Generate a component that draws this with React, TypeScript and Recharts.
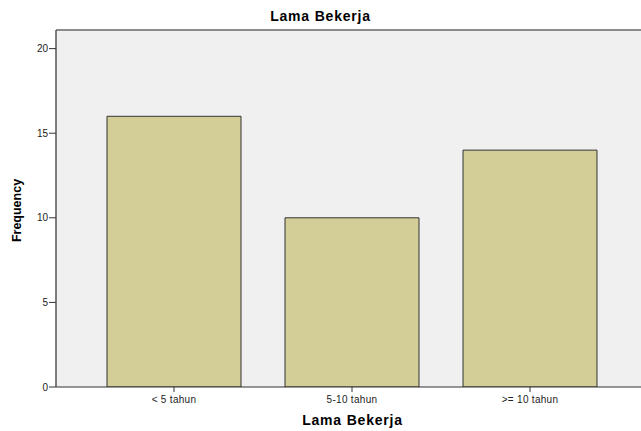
import React from 'react';
import { BarChart, Bar, XAxis, YAxis, CartesianGrid, ReferenceLine } from 'recharts';

const categories = ['< 5 tahun', '5-10 tahun', '>= 10 tahun'];
const frequencies = [16, 10, 14];
const yTicks = [0, 5, 10, 15, 20];

const data = categories.map((name, i) => ({ name, freq: frequencies[i] }));

const FONT = '"Liberation Sans", Arial, sans-serif';
const TOP = 21.1;

const YLabel = (props: any) => {
  const { viewBox } = props;
  const cy = viewBox.y + viewBox.height / 2 + 2;
  return (
    <text
      x={17}
      y={cy}
      transform={`rotate(-90, 17, ${cy})`}
      textAnchor="middle"
      dominantBaseline="central"
      fontFamily={FONT}
      fontWeight="bold"
      fontSize={12.5}
      fill="#000"
    >
      Frequency
    </text>
  );
};

const App: React.FC = () => {
  return (
    <div style={{ position: 'absolute', left: 0, top: 0, width: 641, height: 431, background: '#fff' }}>
      <div
        style={{
          position: 'absolute',
          top: 8,
          left: 0,
          width: 641,
          textAlign: 'center',
          fontFamily: FONT,
          fontWeight: 'bold',
          fontSize: 14,
          letterSpacing: 0.8,
        }}
      >
        Lama Bekerja
      </div>
      <BarChart
        width={641}
        height={431}
        data={data}
        barCategoryGap={22}
        margin={{ top: 30, right: 0, left: 0, bottom: 0 }}
      >
        <CartesianGrid fill="#f0f0f0" horizontal={false} vertical={false} />
        <ReferenceLine y={TOP} stroke="#8c8c8c" strokeWidth={2} />
        <XAxis
          dataKey="name"
          height={44}
          padding={{ left: 29, right: 22 }}
          tickSize={5}
          tickMargin={4}
          axisLine={{ stroke: '#333' }}
          tickLine={{ stroke: '#333' }}
          tick={{ fontFamily: FONT, fontSize: 10, fill: '#222', letterSpacing: 0.3 }}
          label={{
            value: 'Lama Bekerja',
            position: 'insideBottom',
            offset: 6,
            fontFamily: FONT,
            fontWeight: 'bold',
            fontSize: 14,
            letterSpacing: 0.8,
            fill: '#000',
            dx: 4,
          }}
        />
        <YAxis
          width={56}
          domain={[0, TOP]}
          ticks={yTicks}
          allowDataOverflow
          tickSize={7}
          tickMargin={1}
          axisLine={{ stroke: '#555', strokeWidth: 1.5 }}
          tickLine={{ stroke: '#333' }}
          tick={{ fontFamily: FONT, fontSize: 10, fill: '#222' }}
          label={<YLabel />}
        />
        <Bar dataKey="freq" fill="#d3ce97" stroke="#333" strokeWidth={1} isAnimationActive={false} />
      </BarChart>
    </div>
  );
};

export default App;
